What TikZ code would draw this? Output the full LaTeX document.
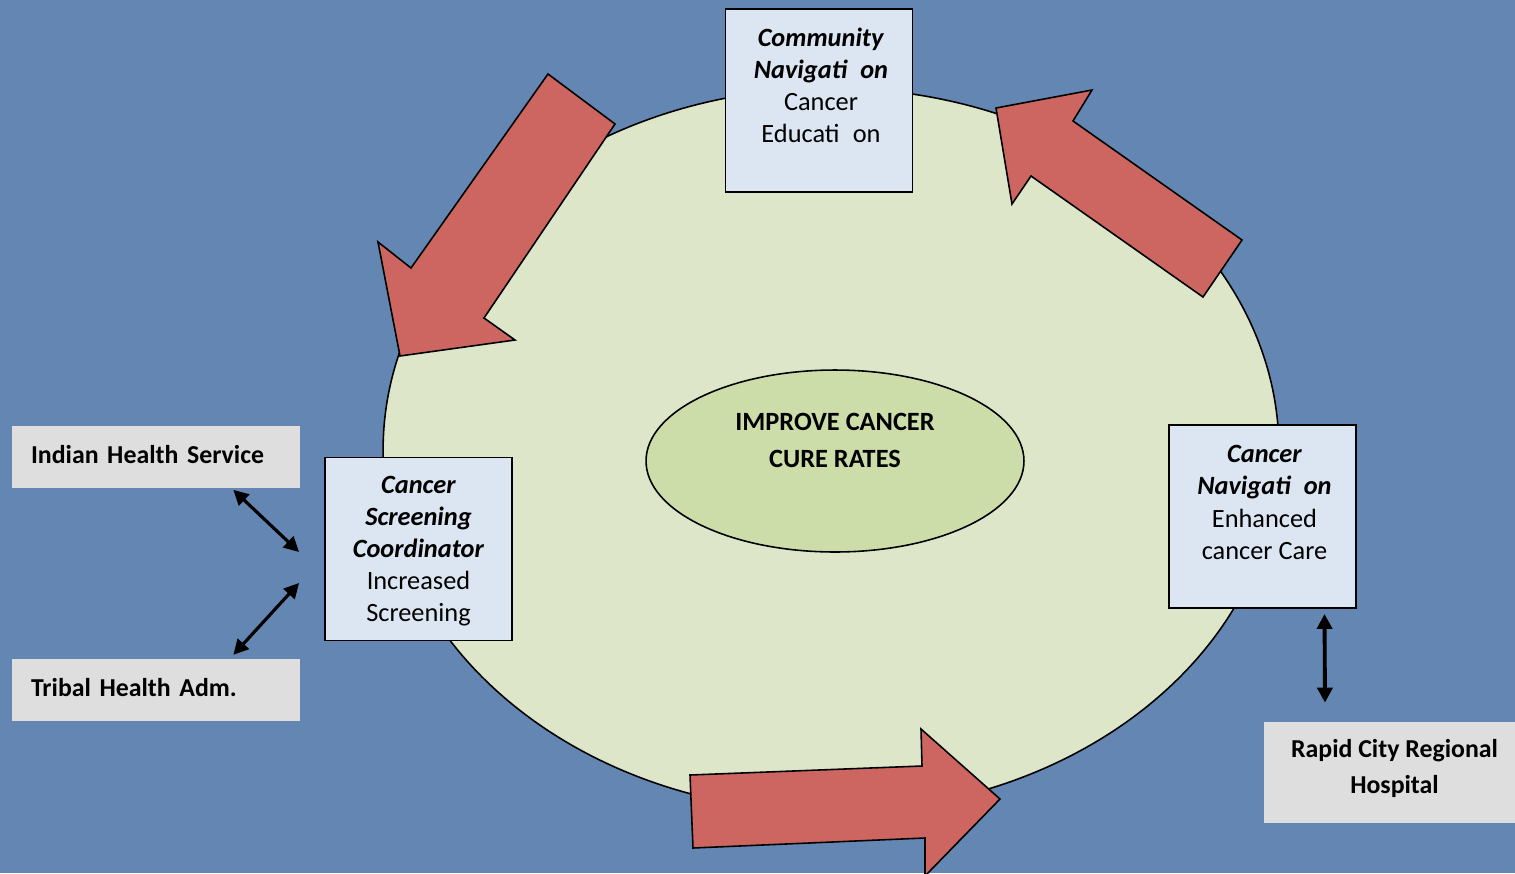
\documentclass[tikz,border=0pt]{standalone}
\usepackage{fontspec}
\setmainfont{Carlito}
\usepackage{tikz}
\usetikzlibrary{shapes.geometric, positioning, calc, arrows.meta}
\definecolor{crBackBlue}{RGB}{99,134,178}
\definecolor{crPaleGreen}{RGB}{221,230,200}
\definecolor{crSage}{RGB}{205,221,170}
\definecolor{crBoxBlue}{RGB}{220,230,242}
\definecolor{crGrey}{RGB}{222,222,222}
\definecolor{crBrick}{RGB}{205,102,96}

\begin{document}
\begin{tikzpicture}[
        x=0.02cm, y=-0.02cm,
        role/.style={draw=black, line width=1.1pt, fill=crBoxBlue, minimum width=3.74cm, minimum height=3.66cm},
        roletext/.style={align=center, font=\fontsize{15}{18.3}\selectfont},
        partner/.style={fill=crGrey, minimum height=1.24cm, font=\fontsize{14.7}{21}\selectfont\bfseries},
        push/.style={draw=black, line width=0.9pt, fill=crBrick, line join=miter},
        link/.style={{Triangle[length=0.3cm,width=0.3cm]}-{Triangle[length=0.3cm,width=0.3cm]}, line width=1.8pt},
        node distance=3.42cm
      ]
        \fill[crBackBlue] (0,0) rectangle (1515,873);
        \useasboundingbox (0,0) rectangle (1515,873);

        \node[ellipse, draw=black, line width=0.9pt, fill=crPaleGreen, minimum width=17.92cm, minimum height=14.48cm] (loop) at (831,450) {};

        % block arrows round the loop
        \draw[push] (548,74) -- (615,124) -- (484,318) -- (515,340) -- (400,356) -- (378,242) -- (411,268) -- cycle;
        \draw[push] (996,108) -- (1092,90) -- (1073,121) -- (1242,240) -- (1203,297) -- (1031,176) -- (1012,204) -- cycle;
        \draw[push] (690,775) -- (922,766) -- (921,729) -- (1000,799) -- (925,876) -- (925,838) -- (693,848) -- cycle;

        \node[role] (cne) at (819,100.5) {};
        \node[roletext] (cneText) at ($(cne)+(2,-15)$) {\textbf{\textit{Community}}\\ \textbf{\textit{Navigati\hspace{0.5em}on}}\\ Cancer\\ Educati\hspace{0.5em}on};
        \node[role] (csc) at (418.5,549) {};
        \node[roletext] (cscText) at ($(csc)+(0,2)$) {\textbf{\textit{Cancer}}\\ \textbf{\textit{Screening}}\\ \textbf{\textit{Coordinator}}\\ Increased\\ Screening};
        \node[role] (cnc) at (1262.5,516.5) {};
        \node[roletext] (cncText) at ($(cnc)+(2,-14)$) {\textbf{\textit{Cancer}}\\ \textbf{\textit{Navigati\hspace{0.5em}on}}\\ Enhanced\\ cancer Care};

        \node[ellipse, draw=black, line width=0.9pt, fill=crSage, minimum width=7.56cm, minimum height=3.64cm] (goal) at (835,461) {};
        \node[align=center, font=\fontsize{15}{21}\selectfont\bfseries] (goalText) at ($(goal)+(0,-21)$) {IMPROVE CANCER\\CURE RATES};

        % partners
        \node[partner, text width=5cm, align=left, inner xsep=0.38cm, text depth=0.1cm] (ihs) at (156,456.5) {Indian Health Service};
        \node[partner, text width=5cm, align=left, inner xsep=0.38cm, text depth=0.1cm, below=of ihs] (tha) {Tribal Health Adm.};
        \node[partner, minimum width=5.02cm, minimum height=2.02cm, align=center] (rch) at (1389.5,772.5) {};
        \node[align=center, font=\fontsize{14.7}{21}\selectfont\bfseries] (rchText) at ($(rch)+(5,-4)$) {Rapid City Regional\\Hospital};

        \coordinate (ihsTip) at ($(ihs.south east)+(-67,2)$);
        \coordinate (cscTipA) at ($(csc.west)+(-25,3)$);
        \coordinate (cscTipB) at ($(csc.west)+(-25,34)$);
        \coordinate (thaTip) at ($(tha.north east)+(-67,-4)$);
        \coordinate (cncTip) at ($(cnc.south)+(62,5)$);
        \coordinate (rchTip) at ($(rch.north)+(-64.5,-19)$);
        \draw[link] (ihsTip) -- (cscTipA);
        \draw[link] (cscTipB) -- (thaTip);
        \draw[link, line width=2.2pt] (cncTip) -- (rchTip);
      \end{tikzpicture}
\end{document}
